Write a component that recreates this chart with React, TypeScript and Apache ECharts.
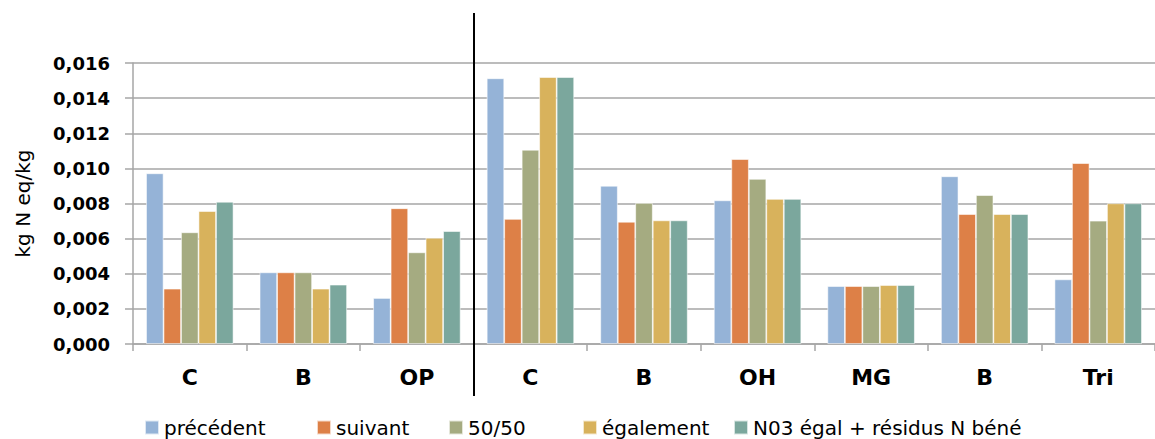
import React, { useEffect, useRef } from "react";
import * as echarts from "echarts";

// Categories along the x axis (two groups separated by a vertical rule after "OP")
const categories = ["C", "B", "OP", "C", "B", "OH", "MG", "B", "Tri"];

// kg N eq/kg per scenario
const precedent = [0.00972, 0.00408, 0.00262, 0.01513, 0.00901, 0.00818, 0.0033, 0.00955, 0.00368];
const suivant = [0.00315, 0.00408, 0.00773, 0.00712, 0.00696, 0.01053, 0.0033, 0.0074, 0.0103];
const cinquante = [0.00636, 0.00408, 0.00522, 0.01106, 0.00803, 0.0094, 0.0033, 0.00848, 0.00702];
const egalement = [0.00757, 0.00315, 0.00605, 0.0152, 0.00704, 0.00826, 0.00336, 0.0074, 0.00801];
const n03 = [0.0081, 0.00338, 0.00643, 0.0152, 0.00704, 0.00826, 0.00336, 0.0074, 0.00801];

const seriesNames = ["précédent", "suivant", "50/50", "également", "N03 égal + résidus N béné"];
const seriesValues = [precedent, suivant, cinquante, egalement, n03];
const colors = ["#95b3d7", "#dd8047", "#a5ab81", "#d8b25c", "#7ba79d"];
const legendLeft = [144, 316, 448, 582, 733];

// y axis ticks
const yMin = 0;
const yMax = 0.016;
const yStep = 0.002;

export default function App() {
  const ref = useRef<HTMLDivElement>(null);

  useEffect(() => {
    document.body.style.margin = "0";
    const chart = echarts.init(ref.current!, undefined, { renderer: "svg" });
    const gridColor = "#a6a6a6";

    chart.setOption({
      animation: false,
      backgroundColor: "#ffffff",
      grid: { left: 133, top: 63, width: 1033, height: 281 },
      legend: seriesNames.map((name, i) => ({
        data: [name],
        left: legendLeft[i],
        top: 417,
        padding: 0,
        icon: "rect",
        itemWidth: 14,
        itemHeight: 14,
        itemGap: 0,
        selectedMode: false,
        textStyle: { fontFamily: "DejaVu Sans", fontSize: 20, lineHeight: 21, color: "#000" },
      })),
      xAxis: {
        type: "category",
        data: categories,
        axisLine: { lineStyle: { color: gridColor, width: 1.5 } },
        axisTick: { show: true, interval: 0, length: 7, lineStyle: { color: gridColor, width: 1.5 } },
        axisLabel: {
          interval: 0,
          margin: 22,
          fontFamily: "DejaVu Sans",
          fontWeight: "bold",
          fontSize: 22,
          color: "#000",
        },
      },
      yAxis: {
        type: "value",
        min: yMin,
        max: yMax,
        interval: yStep,
        name: "kg N eq/kg",
        nameLocation: "middle",
        nameGap: 100,
        nameRotate: 90,
        nameTextStyle: { fontFamily: "DejaVu Sans", fontSize: 20, color: "#000" },
        axisLine: { show: true, lineStyle: { color: gridColor, width: 1.5 } },
        axisTick: { show: true, length: 8, lineStyle: { color: gridColor, width: 1.5 } },
        splitLine: { show: true, lineStyle: { color: gridColor, width: 1.5 } },
        axisLabel: {
          margin: 23,
          fontFamily: "DejaVu Sans",
          fontWeight: "bold",
          fontSize: 18,
          color: "#000",
          formatter: (v: number) => v.toFixed(3).replace(".", ","),
        },
      },
      series: seriesNames.map((name, i) => ({
        name,
        type: "bar",
        data: seriesValues[i],
        barGap: "0%",
        barCategoryGap: "23%",
        itemStyle: { color: colors[i], borderColor: "rgba(255,255,255,0.7)", borderWidth: 0.8 },
      })),
    });

    // Vertical rule between the third and fourth categories
    const a = chart.convertToPixel({ xAxisIndex: 0 }, 2) as number;
    const b = chart.convertToPixel({ xAxisIndex: 0 }, 3) as number;
    const sepX = Math.round((a + b) / 2);
    chart.setOption({
      graphic: [
        {
          type: "line",
          shape: { x1: sepX, y1: 13, x2: sepX, y2: 396 },
          style: { stroke: "#000", lineWidth: 2 },
          z: 100,
        },
      ],
    });

    return () => chart.dispose();
  }, []);

  return <div ref={ref} style={{ width: 1155, height: 439 }} />;
}
